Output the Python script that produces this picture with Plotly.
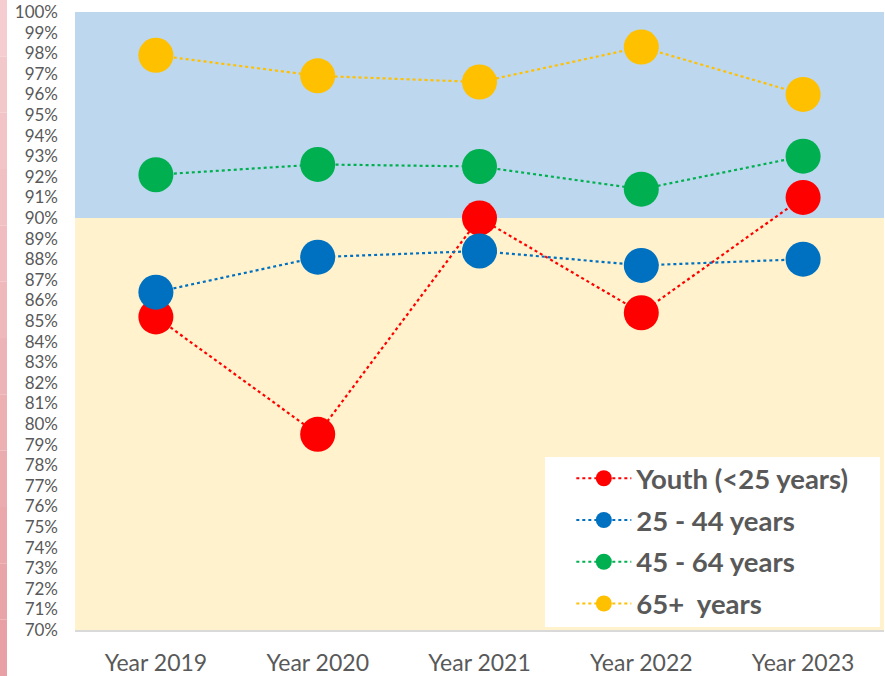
import plotly.graph_objects as go

years = ["Year 2019", "Year 2020", "Year 2021", "Year 2022", "Year 2023"]
youth = [85.2, 79.5, 90.0, 85.4, 91.0]
age_25_44 = [86.4, 88.1, 88.4, 87.7, 88.0]
age_45_64 = [92.1, 92.6, 92.5, 91.4, 93.0]
age_65 = [97.9, 96.9, 96.6, 98.3, 96.0]

series = [
    ("Youth (<25 years)", youth, "#FF0000"),
    ("25 - 44 years", age_25_44, "#0070C0"),
    ("45 - 64 years", age_45_64, "#00B050"),
    ("65+  years", age_65, "#FFC000"),
]

FONT = "Lato, 'Open Sans', sans-serif"
GREY = "#595959"

fig = go.Figure()
for i, (name, vals, col) in enumerate(series):
    fig.add_trace(go.Scatter(
        x=years, y=vals, name=name, mode="lines+markers",
        line=dict(color=col, width=2.2, dash="dot"),
        marker=dict(color=col, size=35),
        legendgroup=f"g{i}",
    ))

shapes = [
    dict(type="rect", xref="paper", yref="y", x0=0, x1=1, y0=90, y1=100,
         fillcolor="#BDD7EE", line_width=0, layer="below"),
    dict(type="rect", xref="paper", yref="y", x0=0, x1=1, y0=70, y1=90,
         fillcolor="#FFF2CC", line_width=0, layer="below"),
    dict(type="rect", xref="paper", yref="paper", x0=0.581, x1=0.995, y0=0.005, y1=0.28,
         fillcolor="white", line_width=0, layer="below"),
]
# pink decorative stripe on the left edge (gradient approximated by bands)
n = 12
top_c = (0xF5, 0xCC, 0xCF)
bot_c = (0xE8, 0xA0, 0xA4)
for k in range(n):
    t = k / (n - 1)
    c = tuple(int(top_c[j] + (bot_c[j] - top_c[j]) * t) for j in range(3))
    y1 = 1 + 12 / 618 - k * (676 / 618) / n
    y0 = 1 + 12 / 618 - (k + 1) * (676 / 618) / n
    shapes.append(dict(type="rect", xref="paper", yref="paper",
                       x0=-75 / 809, x1=-68 / 809, y0=y0, y1=y1,
                       fillcolor="rgb(%d,%d,%d)" % c, line_width=0, layer="below"))

fig.update_layout(
    width=885, height=676,
    margin=dict(l=75, r=1, t=12, b=46),
    paper_bgcolor="white", plot_bgcolor="white",
    font=dict(family=FONT, color=GREY),
    shapes=shapes,
    showlegend=True,
    legend=dict(
        x=0.6135, y=0.285, xanchor="left", yanchor="top",
        bgcolor="rgba(0,0,0,0)",
        font=dict(size=27.5, color=GREY, family=FONT, weight="bold"),
        traceorder="grouped", tracegroupgap=3,
        itemwidth=55,
    ),
    xaxis=dict(
        type="category", range=[-0.5, 4.5],
        showline=True, linecolor="#D9D9D9", linewidth=2,
        showgrid=False, ticks="", tickfont=dict(size=23, color=GREY),
        ticklabelstandoff=11,
    ),
    yaxis=dict(
        range=[70, 100], dtick=1, tick0=70, ticksuffix="%",
        showgrid=False, zeroline=False, showline=False, ticks="",
        tickfont=dict(size=17, color=GREY),
        ticklabelstandoff=16,
    ),
)

fig.write_html("out.html", config={"displayModeBar": False},
               post_script="document.body.style.margin='0';")
